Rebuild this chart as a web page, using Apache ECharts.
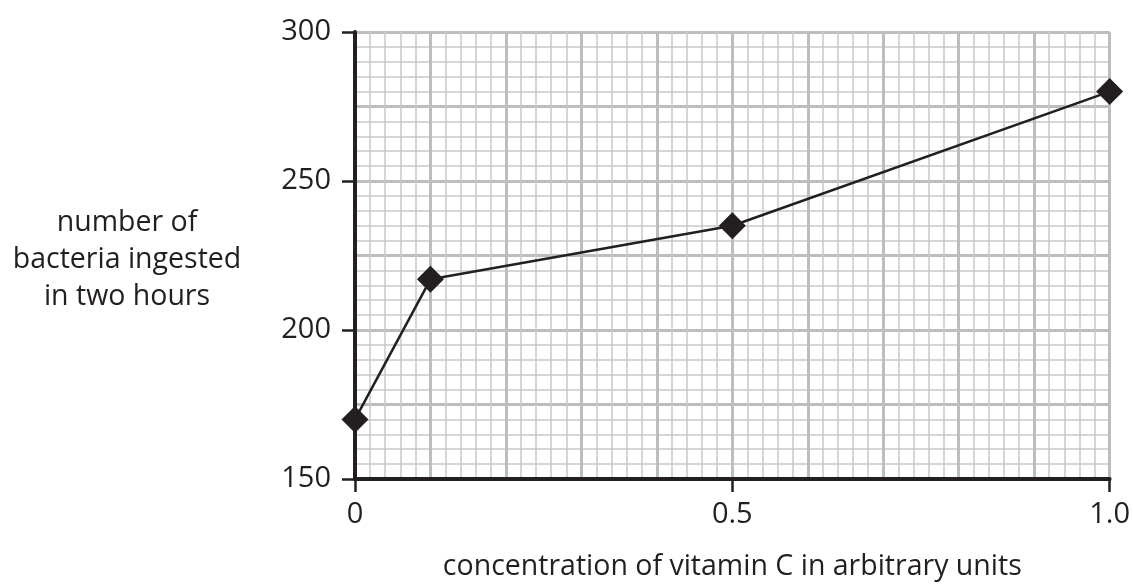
<!DOCTYPE html>
<html>
<head>
<meta charset="utf-8">
<title>vitamin C</title>
<script src="https://cdn.jsdelivr.net/npm/echarts@6/dist/echarts.min.js"></script>
<style>
    html, body { margin: 0; padding: 0; background: #fff; }
    #chart { width: 1133px; height: 586px; }
</style>
</head>
<body>
<div id="chart"></div>
<script>
    // values
    var concentration = [0, 0.1, 0.5, 1.0];
    var bacteria = [170, 217, 235, 280];
    var xTicks = [0, 0.5, 1.0];
    var yTicks = [150, 200, 250, 300];
    var yName = ['number of', 'bacteria ingested', 'in two hours'];
    var xName = 'concentration of vitamin C in arbitrary units';

    var ink = '#231f20';
    var font = '"Open Sans", "Noto Sans", sans-serif';
    var major = { color: '#bbbdbf', width: 3 };
    var minor = { color: '#c8c9cb', width: 1.5 };

    var chart = echarts.init(document.getElementById('chart'));

    var points = [];
    for (var i = 0; i < concentration.length; i++) {
        points.push([concentration[i], bacteria[i]]);
    }

    chart.setOption({
        animation: false,
        grid: { left: 355, right: 22, top: 32, bottom: 100 },
        xAxis: [
            {
                // graph paper
                type: 'value', position: 'bottom',
                min: xTicks[0], max: xTicks[xTicks.length - 1], interval: 0.1,
                axisLine: { show: false }, axisTick: { show: false }, axisLabel: { show: false },
                splitLine: { show: true, lineStyle: major },
                minorTick: { show: false, splitNumber: 5 },
                minorSplitLine: { show: true, lineStyle: minor }
            },
            {
                type: 'value', position: 'bottom',
                min: xTicks[0], max: xTicks[xTicks.length - 1], interval: xTicks[1] - xTicks[0],
                axisLine: { show: true, onZero: false, lineStyle: { color: ink, width: 4 } },
                axisTick: { show: true, length: 13, lineStyle: { color: ink, width: 2.5 } },
                axisLabel: {
                    margin: 21, color: ink, fontSize: 29, fontFamily: font,
                    formatter: function (v) { return v === 0 ? '0' : v.toFixed(1); }
                },
                splitLine: { show: false },
                name: xName, nameLocation: 'middle', nameGap: 73,
                nameTextStyle: { color: ink, fontSize: 28.5, fontFamily: font }
            }
        ],
        yAxis: [
            {
                type: 'value', position: 'left',
                min: yTicks[0], max: yTicks[yTicks.length - 1], interval: 25,
                axisLine: { show: false }, axisTick: { show: false }, axisLabel: { show: false },
                splitLine: { show: true, lineStyle: major },
                minorTick: { show: false, splitNumber: 5 },
                minorSplitLine: { show: true, lineStyle: minor }
            },
            {
                type: 'value', position: 'left',
                min: yTicks[0], max: yTicks[yTicks.length - 1], interval: yTicks[1] - yTicks[0],
                axisLine: { show: true, onZero: false, lineStyle: { color: ink, width: 4 } },
                axisTick: { show: true, length: 13, lineStyle: { color: ink, width: 2.5 } },
                axisLabel: { margin: 24, color: ink, fontSize: 29, fontFamily: font },
                splitLine: { show: false }
            }
        ],
        graphic: [{
            type: 'text',
            style: {
                x: 127, y: 260, text: yName.join('\n'), align: 'center', verticalAlign: 'middle',
                fill: ink, fontSize: 28.5, fontFamily: font, lineHeight: 37
            }
        }],
        series: [{
            type: 'line',
            xAxisIndex: 1, yAxisIndex: 1,
            data: points,
            symbol: 'diamond', symbolSize: [27, 27],
            lineStyle: { color: ink, width: 2.5 },
            itemStyle: { color: ink },
            z: 5
        }]
    });
</script>
</body>
</html>
